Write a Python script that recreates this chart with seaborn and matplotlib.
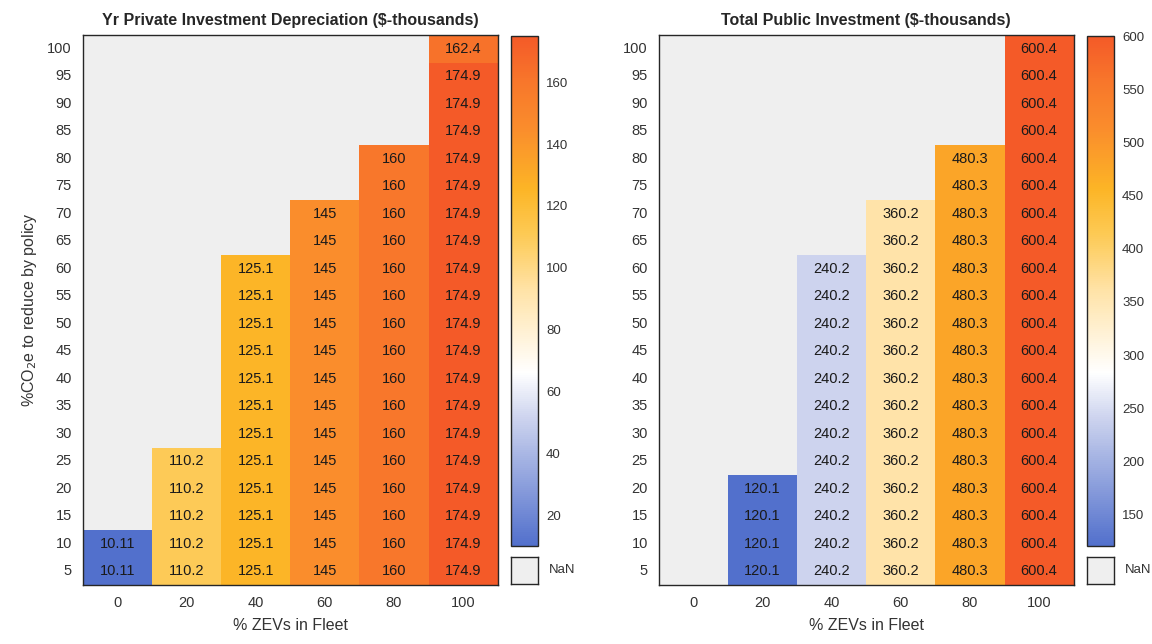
import numpy as np
import pandas as pd
import seaborn as sns
import matplotlib.pyplot as plt
from matplotlib.colors import LinearSegmentedColormap
from matplotlib.patches import Rectangle

nan = np.nan

zev_levels = [0, 20, 40, 60, 80, 100]
co2_levels = [100, 95, 90, 85, 80, 75, 70, 65, 60, 55, 50, 45, 40, 35, 30, 25, 20, 15, 10, 5]

# rows follow co2_levels (100 at top), columns follow zev_levels
private_depreciation = [
    [nan, nan, nan, nan, nan, 162.4],
    [nan, nan, nan, nan, nan, 174.9],
    [nan, nan, nan, nan, nan, 174.9],
    [nan, nan, nan, nan, nan, 174.9],
    [nan, nan, nan, nan, 160, 174.9],
    [nan, nan, nan, nan, 160, 174.9],
    [nan, nan, nan, 145, 160, 174.9],
    [nan, nan, nan, 145, 160, 174.9],
    [nan, nan, 125.1, 145, 160, 174.9],
    [nan, nan, 125.1, 145, 160, 174.9],
    [nan, nan, 125.1, 145, 160, 174.9],
    [nan, nan, 125.1, 145, 160, 174.9],
    [nan, nan, 125.1, 145, 160, 174.9],
    [nan, nan, 125.1, 145, 160, 174.9],
    [nan, nan, 125.1, 145, 160, 174.9],
    [nan, 110.2, 125.1, 145, 160, 174.9],
    [nan, 110.2, 125.1, 145, 160, 174.9],
    [nan, 110.2, 125.1, 145, 160, 174.9],
    [10.11, 110.2, 125.1, 145, 160, 174.9],
    [10.11, 110.2, 125.1, 145, 160, 174.9],
]

public_investment = [
    [nan, nan, nan, nan, nan, 600.4],
    [nan, nan, nan, nan, nan, 600.4],
    [nan, nan, nan, nan, nan, 600.4],
    [nan, nan, nan, nan, nan, 600.4],
    [nan, nan, nan, nan, 480.3, 600.4],
    [nan, nan, nan, nan, 480.3, 600.4],
    [nan, nan, nan, 360.2, 480.3, 600.4],
    [nan, nan, nan, 360.2, 480.3, 600.4],
    [nan, nan, 240.2, 360.2, 480.3, 600.4],
    [nan, nan, 240.2, 360.2, 480.3, 600.4],
    [nan, nan, 240.2, 360.2, 480.3, 600.4],
    [nan, nan, 240.2, 360.2, 480.3, 600.4],
    [nan, nan, 240.2, 360.2, 480.3, 600.4],
    [nan, nan, 240.2, 360.2, 480.3, 600.4],
    [nan, nan, 240.2, 360.2, 480.3, 600.4],
    [nan, nan, 240.2, 360.2, 480.3, 600.4],
    [nan, 120.1, 240.2, 360.2, 480.3, 600.4],
    [nan, 120.1, 240.2, 360.2, 480.3, 600.4],
    [nan, 120.1, 240.2, 360.2, 480.3, 600.4],
    [nan, 120.1, 240.2, 360.2, 480.3, 600.4],
]

private_ticks = [20, 40, 60, 80, 100, 120, 140, 160]
public_ticks = [150, 200, 250, 300, 350, 400, 450, 500, 550, 600]

sns.set_theme(style="white")
plt.rcParams["font.family"] = ["Liberation Sans", "DejaVu Sans"]

cmap = LinearSegmentedColormap.from_list("bwo", [
    (0.00, "#5270cc"),
    (0.25, "#ccd3ee"),
    (0.34, "#ffffff"),
    (0.50, "#ffe3a8"),
    (0.61, "#fdca55"),
    (0.70, "#fcb526"),
    (0.82, "#fa8d2c"),
    (0.91, "#f8772b"),
    (1.00, "#f45a28"),
], N=256)

nan_gray = "#efefef"
text_col = "#262626"
label_col = "#333333"

fig = plt.figure(figsize=(11.52, 6.44), dpi=100)


def draw_panel(values, title, ticks, hm_left, cb_left, show_ylabel):
    df = pd.DataFrame(values, index=co2_levels, columns=zev_levels)
    labels = df.map(lambda v: "" if np.isnan(v) else f"{v:.4g}")

    ax = fig.add_axes([hm_left, 0.0916, 0.3600, 0.854])
    cax = fig.add_axes([cb_left, 0.152, 0.0232, 0.792])
    nax = fig.add_axes([cb_left, 0.0932, 0.0232, 0.042])

    ax.set_facecolor(nan_gray)
    sns.heatmap(df, ax=ax, cmap=cmap, annot=labels, fmt="",
                vmin=np.nanmin(df.values), vmax=np.nanmax(df.values),
                cbar_ax=cax, linewidths=0,
                annot_kws={"fontsize": 10.5})
    for t in ax.texts:
        t.set_color("#1a1a1a")

    for sp in ax.spines.values():
        sp.set_visible(True)
        sp.set_color(text_col)
        sp.set_linewidth(1.0)
    ax.tick_params(axis="both", length=0, labelsize=10.5, labelcolor=label_col, pad=8)
    ax.set_yticklabels(co2_levels, rotation=0)
    ax.set_xticklabels(zev_levels, rotation=0)
    ax.set_title(title, fontsize=11.5, fontweight="bold", color=text_col, pad=7)
    ax.set_xlabel("% ZEVs in Fleet", fontsize=11.5, color=label_col, labelpad=6)
    if show_ylabel:
        ax.set_ylabel("%CO$_2$e to reduce by policy", fontsize=11.5, color=label_col, labelpad=6)
    else:
        ax.set_ylabel("")

    cb = ax.collections[0].colorbar
    cb.set_ticks(ticks)
    cb.outline.set_visible(True)
    cb.outline.set_linewidth(1.0)
    cb.outline.set_edgecolor(text_col)
    cax.tick_params(axis="y", direction="in", length=3, width=0.8, color=text_col,
                    labelsize=9.5, labelcolor=label_col, pad=6, right=True)

    # NaN legend box below the colorbar
    nax.set_xlim(0, 1)
    nax.set_ylim(0, 1)
    nax.add_patch(Rectangle((0, 0), 1, 1, facecolor=nan_gray, edgecolor="none"))
    nax.set_xticks([])
    nax.set_yticks([])
    for sp in nax.spines.values():
        sp.set_visible(True)
        sp.set_color(text_col)
        sp.set_linewidth(1.0)
    nax.text(1.4, 0.5, "NaN", transform=nax.transAxes, va="center", ha="left",
             fontsize=9.5, color=label_col)


draw_panel(private_depreciation, r"Yr Private Investment Depreciation (\$-thousands)",
           private_ticks, 0.0720, 0.4436, True)
draw_panel(public_investment, r"Total Public Investment (\$-thousands)",
           public_ticks, 0.5720, 0.9436, False)

fig.savefig("out.png", dpi=100)
